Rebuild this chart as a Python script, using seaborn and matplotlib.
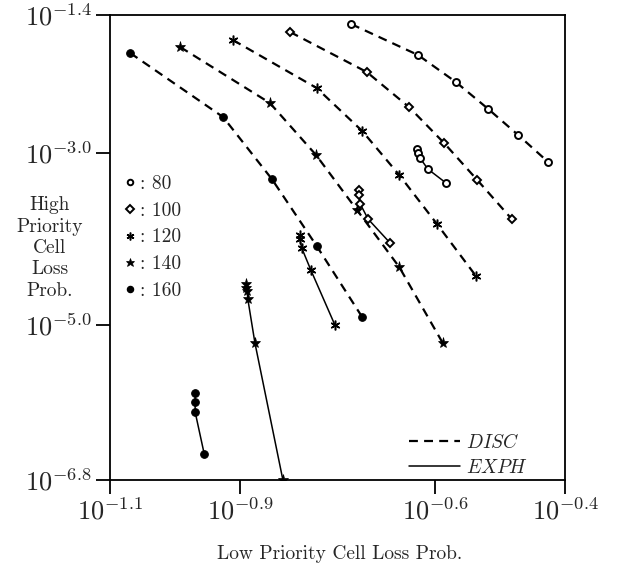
import matplotlib
matplotlib.use("Agg")
import matplotlib.pyplot as plt
from matplotlib.lines import Line2D
import numpy as np
import pandas as pd
import seaborn as sns

# log10 values
n_values = [80, 100, 120, 140, 160]

disc_x_80 = [-0.729, -0.626, -0.568, -0.518, -0.472, -0.426]
disc_y_80 = [-1.505, -1.865, -2.178, -2.492, -2.794, -3.107]
disc_x_100 = [-0.823, -0.705, -0.640, -0.586, -0.535, -0.482]
disc_y_100 = [-1.597, -2.062, -2.469, -2.887, -3.316, -3.769]
disc_x_120 = [-0.911, -0.782, -0.712, -0.655, -0.597, -0.537]
disc_y_120 = [-1.690, -2.248, -2.747, -3.258, -3.827, -4.431]
disc_x_140 = [-0.992, -0.854, -0.783, -0.720, -0.655, -0.588]
disc_y_140 = [-1.772, -2.422, -3.026, -3.665, -4.327, -5.210]
disc_x_160 = [-1.069, -0.926, -0.851, -0.782, -0.712]
disc_y_160 = [-1.841, -2.585, -3.305, -4.083, -4.908]

exph_x_80 = [-0.628, -0.626, -0.623, -0.611, -0.583]
exph_y_80 = [-2.956, -3.003, -3.061, -3.189, -3.351]
exph_x_100 = [-0.717, -0.717, -0.715, -0.703, -0.669]
exph_y_100 = [-3.433, -3.491, -3.595, -3.769, -4.048]
exph_x_120 = [-0.808, -0.808, -0.805, -0.791, -0.754]
exph_y_120 = [-3.955, -4.002, -4.106, -4.362, -5.000]
exph_x_140 = [-0.891, -0.891, -0.889, -0.888, -0.877, -0.834]
exph_y_140 = [-4.524, -4.571, -4.606, -4.698, -5.210, -6.800]
exph_x_160 = [-0.969, -0.969, -0.969, -0.955]
exph_y_160 = [-5.790, -5.895, -6.011, -6.499]

x_ticks = [-1.1, -0.9, -0.6, -0.4]
y_ticks = [-1.4, -3.0, -5.0, -6.8]

disc = {80: (disc_x_80, disc_y_80), 100: (disc_x_100, disc_y_100),
        120: (disc_x_120, disc_y_120), 140: (disc_x_140, disc_y_140),
        160: (disc_x_160, disc_y_160)}
exph = {80: (exph_x_80, exph_y_80), 100: (exph_x_100, exph_y_100),
        120: (exph_x_120, exph_y_120), 140: (exph_x_140, exph_y_140),
        160: (exph_x_160, exph_y_160)}

rows = []
for model, curves in [("DISC", disc), ("EXPH", exph)]:
    for n, (xs, ys) in curves.items():
        for i, (a, b) in enumerate(zip(xs, ys)):
            rows.append({"model": model, "N": n, "i": i,
                         "low": 10 ** a, "high": 10 ** b})
df = pd.DataFrame(rows)

marker_style = {
    80: dict(marker="o", markersize=5, markerfacecolor="white", markeredgewidth=1.4),
    100: dict(marker="D", markersize=4.5, markerfacecolor="white", markeredgewidth=1.4),
    120: dict(marker=(6, 2, 0), markersize=7, markeredgewidth=1.1),
    140: dict(marker="*", markersize=8, markeredgewidth=0.5),
    160: dict(marker="o", markersize=5.5, markerfacecolor="black"),
}
line_style = {"DISC": (0, (4, 2.8)), "EXPH": "-"}
line_width = {"DISC": 1.6, "EXPH": 1.1}

sns.set_style("ticks")
plt.rcParams["font.family"] = ["cmr10", "DejaVu Serif"]
plt.rcParams["mathtext.fontset"] = "cm"
plt.rcParams["axes.formatter.use_mathtext"] = True

fig = plt.figure(figsize=(6.25, 5.71), dpi=100)
ax = fig.add_axes([0.176, 0.1594, 0.728, 0.8143])

for (model, n), sub in df.groupby(["model", "N"]):
    sns.lineplot(data=sub, x="low", y="high", ax=ax, color="black",
                 estimator=None, sort=False, linestyle=line_style[model],
                 linewidth=line_width[model], markeredgecolor="black",
                 **marker_style[n])

ax.set_xscale("log")
ax.set_yscale("log")
ax.set_xlim(10 ** x_ticks[0], 10 ** x_ticks[-1])
ax.set_ylim(10 ** y_ticks[-1], 10 ** y_ticks[0])
ax.minorticks_off()
ax.set_xticks([10 ** t for t in x_ticks])
ax.set_xticklabels([r"$10^{%.1f}$" % t for t in x_ticks])
ax.set_yticks([10 ** t for t in y_ticks])
ax.set_yticklabels([r"$10^{%.1f}$" % t for t in y_ticks])
ax.tick_params(axis="both", direction="out", length=10, width=1.3,
               labelsize=19, pad=3, color="black")
for s in ax.spines.values():
    s.set_linewidth(1.3)
    s.set_color("black")

ax.set_xlabel("Low Priority Cell Loss Prob.", fontsize=14)
ax.xaxis.set_label_coords(0.505, -0.14)
ax.set_ylabel("High\nPriority\nCell\nLoss\nProb.", fontsize=14,
              rotation=0, ha="center", va="center", linespacing=1.25)
ax.yaxis.set_label_coords(-0.132, 0.499)

key_handles = [Line2D([], [], color="black", linestyle="none",
                      markeredgecolor="black",
                      **{**marker_style[n], "markersize": marker_style[n]["markersize"] * 0.8})
               for n in n_values]
key = ax.legend(key_handles, [": %d" % n for n in n_values], loc="upper left",
                bbox_to_anchor=(0.0, 0.685), frameon=False, fontsize=14,
                handlelength=0.7, handletextpad=0.15, labelspacing=0.45,
                borderaxespad=0.3)
ax.add_artist(key)

model_handles = [Line2D([], [], color="black", linestyle=line_style[m],
                        linewidth=line_width[m]) for m in ["DISC", "EXPH"]]
ax.legend(model_handles, [r"$\mathit{DISC}$", r"$\mathit{EXPH}$"],
          loc="lower right", bbox_to_anchor=(0.935, -0.01), frameon=False,
          fontsize=14, handlelength=2.6, handletextpad=0.3, labelspacing=0.35,
          borderaxespad=0.0)

fig.savefig("out.png", dpi=100)
